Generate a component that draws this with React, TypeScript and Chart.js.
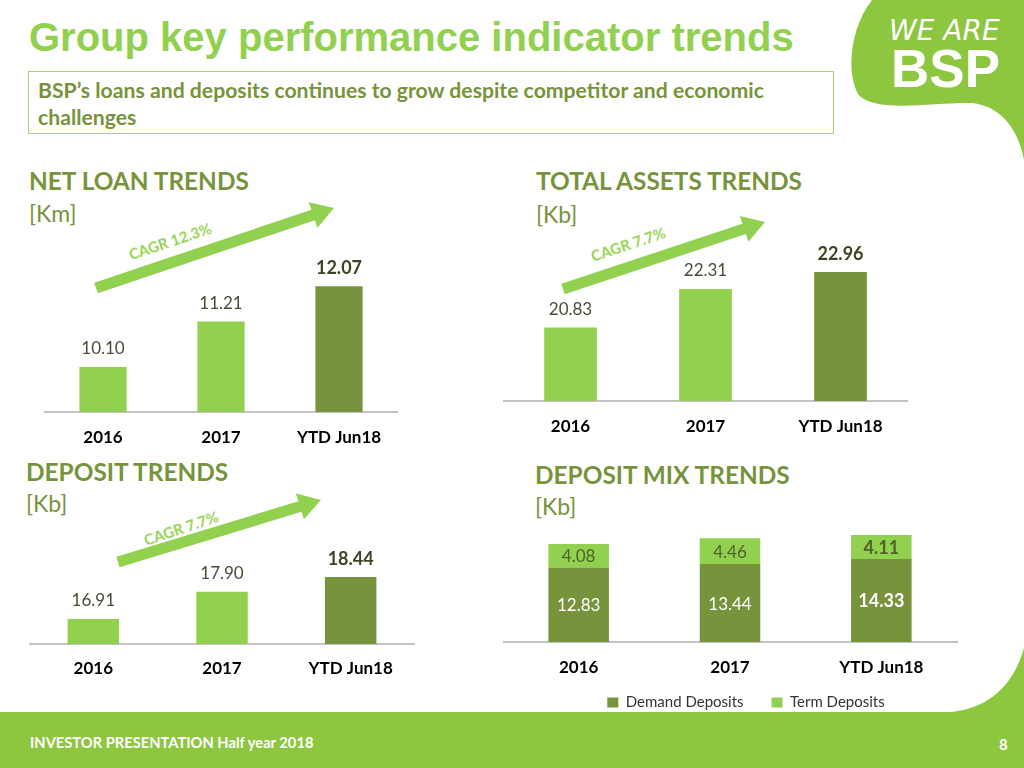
import React, { useEffect, useRef } from "react";
import { Chart, registerables } from "chart.js";
Chart.register(...registerables);

// ---------- data ----------
const categories = ["2016", "2017", "YTD Jun18"];
const netLoanValues = [10.1, 11.21, 12.07];
const totalAssetValues = [20.83, 22.31, 22.96];
const depositValues = [16.91, 17.9, 18.44];
const demandDepositValues = [12.83, 13.44, 14.33];
const termDepositValues = [4.08, 4.46, 4.11];
const seriesNames = ["Demand Deposits", "Term Deposits"];
const cagrLabels = ["CAGR 12.3%", "CAGR 7.7%", "CAGR 7.7%"];

// ---------- styles ----------
const LIGHT = "#92d050";
const DARK = "#77933c";
const BRAND = "#8dc63f";
const HEAD = "#77933c";
const FONT = "Lato, 'Open Sans', sans-serif";

type Geo = {
  left: number; right: number; baseline: number; min: number; max: number;
  ppu: number; labelGap: number; barPct: number;
};

function makeValuePlugin(inside: boolean) {
  return {
    id: "barValues",
    afterDatasetsDraw(chart: any) {
      const ctx = chart.ctx;
      ctx.save();
      ctx.textAlign = "center";
      ctx.textBaseline = "middle";
      chart.data.datasets.forEach((ds: any, di: number) => {
        const meta = chart.getDatasetMeta(di);
        meta.data.forEach((el: any, i: number) => {
          const v = ds.data[i] as number;
          const last = i === ds.data.length - 1;
          let color: string;
          if (inside) color = di === 0 ? "#ffffff" : "#4f6228";
          else color = last ? "#3b4423" : "#474e38";
          ctx.fillStyle = color;
          ctx.font = `${last ? "bold " : ""}${last ? 18 : 17}px ${FONT}`;
          const y = inside ? (el.y + el.base) / 2 + 1 : el.y - 18;
          ctx.fillText(v.toFixed(2), el.x, y);
        });
      });
      ctx.restore();
    },
  };
}

const xAxisBase = (labelGap: number) => ({
  grid: { display: false, drawTicks: false },
  border: { color: "#c3c3c3", width: 2 },
  ticks: {
    color: "#000000",
    font: { family: FONT, weight: "bold", size: 17, lineHeight: `${2 * labelGap}px` },
    padding: 0,
  },
});

function simpleConfig(values: number[], g: Geo) {
  return {
    type: "bar",
    data: {
      labels: categories,
      datasets: [
        {
          data: values,
          backgroundColor: values.map((_, i) => (i === values.length - 1 ? DARK : LIGHT)),
          borderWidth: 0,
          barPercentage: g.barPct,
          categoryPercentage: 1,
        },
      ],
    },
    options: {
      animation: false,
      responsive: false,
      maintainAspectRatio: false,
      layout: { padding: 0 },
      events: [],
      plugins: { legend: { display: false }, tooltip: { enabled: false } },
      scales: {
        x: {
          ...xAxisBase(g.labelGap),
          afterFit: (s: any) => { s.height = 2 * g.labelGap; },
        },
        y: { display: false, min: g.min, max: g.max },
      },
    },
    plugins: [makeValuePlugin(false)],
  };
}

const MIX_AXIS_H = 36;
const MIX_LEGEND_H = 41;

function mixConfig(g: Geo) {
  return {
    type: "bar",
    data: {
      labels: categories,
      datasets: [
        {
          label: seriesNames[0],
          data: demandDepositValues,
          backgroundColor: DARK,
          borderWidth: 0,
          barPercentage: g.barPct,
          categoryPercentage: 1,
        },
        {
          label: seriesNames[1],
          data: termDepositValues,
          backgroundColor: LIGHT,
          borderWidth: 0,
          barPercentage: g.barPct,
          categoryPercentage: 1,
        },
      ],
    },
    options: {
      animation: false,
      responsive: false,
      maintainAspectRatio: false,
      layout: { padding: 0 },
      events: [],
      plugins: {
        tooltip: { enabled: false },
        legend: {
          position: "bottom",
          title: {
            display: true,
            text: "",
            padding: { top: -11, bottom: 0 },
            font: { size: 1, lineHeight: "0px" },
          },
          labels: {
            boxWidth: 11,
            boxHeight: 10,
            padding: 28,
            color: "#333333",
            font: { family: FONT, size: 15 },
          },
        },
      },
      scales: {
        x: {
          stacked: true,
          ...xAxisBase(g.labelGap),
          afterFit: (s: any) => { s.height = MIX_AXIS_H; },
        },
        y: {
          stacked: true,
          position: "right",
          min: g.min,
          max: g.max,
          grid: { display: false, drawTicks: false },
          border: { display: false },
          ticks: { display: false },
          afterFit: (s: any) => { s.width = 32; },
        },
      },
    },
    plugins: [makeValuePlugin(true)],
  };
}

function ChartBox({ x, y, w, h, build }: { x: number; y: number; w: number; h: number; build: () => any }) {
  const ref = useRef<HTMLCanvasElement | null>(null);
  useEffect(() => {
    const chart = new Chart(ref.current as HTMLCanvasElement, build());
    return () => chart.destroy();
  }, []);
  return (
    <canvas
      ref={ref}
      width={w}
      height={h}
      style={{ position: "absolute", left: x, top: y, width: w, height: h }}
    />
  );
}

function SimpleChart({ values, g }: { values: number[]; g: Geo }) {
  const chartH = (g.max - g.min) * g.ppu;
  const top = g.baseline - chartH;
  const h = Math.round(chartH + 2 * g.labelGap);
  return <ChartBox x={g.left} y={top} w={g.right - g.left} h={h} build={() => simpleConfig(values, g)} />;
}

function MixChart({ g }: { g: Geo }) {
  const chartH = (g.max - g.min) * g.ppu;
  const top = g.baseline - chartH;
  const h = Math.round(chartH + MIX_AXIS_H + MIX_LEGEND_H);
  return <ChartBox x={g.left} y={top} w={g.right - g.left + 32} h={h} build={() => mixConfig(g)} />;
}

function T({ x, cy, size, lh, color, weight, family, children, style }: any) {
  return (
    <div
      style={{
        position: "absolute",
        left: x,
        top: cy - lh / 2,
        height: lh,
        lineHeight: `${lh}px`,
        fontSize: size,
        color,
        fontWeight: weight || "normal",
        fontFamily: family || FONT,
        whiteSpace: "nowrap",
        ...style,
      }}
    >
      {children}
    </div>
  );
}

function arrowPoints(x1: number, y1: number, x2: number, y2: number, sw: number, hw: number, hl: number) {
  const dx = x2 - x1, dy = y2 - y1;
  const len = Math.hypot(dx, dy);
  const ux = dx / len, uy = dy / len;
  const nx = -uy, ny = ux;
  const bx = x2 - ux * hl, by = y2 - uy * hl;
  const pts = [
    [x1 + nx * sw / 2, y1 + ny * sw / 2],
    [bx + nx * sw / 2, by + ny * sw / 2],
    [bx + nx * hw / 2, by + ny * hw / 2],
    [x2, y2],
    [bx - nx * hw / 2, by - ny * hw / 2],
    [bx - nx * sw / 2, by - ny * sw / 2],
    [x1 - nx * sw / 2, y1 - ny * sw / 2],
  ];
  return pts.map((p) => `${p[0].toFixed(1)},${p[1].toFixed(1)}`).join(" ");
}

const netLoanGeo: Geo = { left: 44, right: 398, baseline: 412, min: 9, max: 13, ppu: 41, labelGap: 26, barPct: 0.4 };
const totalAssetGeo: Geo = { left: 503, right: 908, baseline: 401, min: 18, max: 25, ppu: 26, labelGap: 26, barPct: 0.39 };
const depositGeo: Geo = { left: 29, right: 415, baseline: 644, min: 16, max: 20, ppu: 27.5, labelGap: 25, barPct: 0.4 };
const mixGeo: Geo = { left: 503, right: 957, baseline: 643, min: 0, max: 25, ppu: 5.85, labelGap: 26, barPct: 0.4 };

const arrows = [
  { x1: 96, y1: 288, x2: 334, y2: 208, tx: 170, ty: 241 },
  { x1: 563, y1: 289, x2: 765, y2: 222, tx: 628, ty: 244 },
  { x1: 118, y1: 562, x2: 321, y2: 500, tx: 181, ty: 528 },
];

const HS = 24.4; // heading size
const US = 23; // unit size

export default function App() {
  return (
    <div
      style={{
        position: "absolute",
        left: 0,
        top: 0,
        width: 1024,
        height: 768,
        overflow: "hidden",
        background: "#ffffff",
        fontFamily: FONT,
      }}
    >
      <svg width={1024} height={768} style={{ position: "absolute", left: 0, top: 0 }}>
        <path d="M 872 0 C 850 28, 846 72, 858 94 C 874 114, 935 102, 972 103 C 1000 106, 1018 128, 1024 160 L 1024 0 Z" fill={BRAND} />
        <path d="M 0 712 L 952 712 C 990 708, 1014 684, 1024 648 L 1024 768 L 0 768 Z" fill={BRAND} />
        {arrows.map((a, i) => (
          <polygon key={i} points={arrowPoints(a.x1, a.y1, a.x2, a.y2, 11, 27, 22)} fill={LIGHT} />
        ))}
        <rect x={28.5} y={71.5} width={805} height={62} fill="none" stroke="#a6d66b" strokeWidth={1} />
      </svg>

      {/* logo */}
      <T x={889} cy={31} size={28} lh={32} color="#ffffff" family="'DejaVu Sans', sans-serif" style={{ fontStyle: "italic" }}>
        WE ARE
      </T>
      <T x={891} cy={69} size={53} lh={56} color="#ffffff" weight="bold" family="'Liberation Sans', Arial, sans-serif">
        BSP
      </T>

      {/* title */}
      <T x={29} cy={36.5} size={40} lh={46} color={LIGHT} weight="bold" family="'Liberation Sans', Arial, sans-serif">
        Group key performance indicator trends
      </T>
      <T x={38} cy={90} size={21.2} lh={26} color={HEAD} weight="bold">
        BSP’s loans and deposits continues to grow despite competitor and economic
      </T>
      <T x={38} cy={117} size={21.2} lh={26} color={HEAD} weight="bold">
        challenges
      </T>

      {/* section headings */}
      <T x={29} cy={181} size={HS} lh={30} color={HEAD} weight="bold">NET LOAN TRENDS</T>
      <T x={29} cy={213} size={US} lh={28} color={HEAD}>[Km]</T>
      <T x={536} cy={181} size={HS} lh={30} color={HEAD} weight="bold">TOTAL ASSETS TRENDS</T>
      <T x={536} cy={214} size={US} lh={28} color={HEAD}>[Kb]</T>
      <T x={26} cy={472} size={HS} lh={30} color={HEAD} weight="bold">DEPOSIT TRENDS</T>
      <T x={26} cy={503} size={US} lh={28} color={HEAD}>[Kb]</T>
      <T x={535} cy={475} size={HS} lh={30} color={HEAD} weight="bold">DEPOSIT MIX TRENDS</T>
      <T x={535} cy={506} size={US} lh={28} color={HEAD}>[Kb]</T>

      {/* charts */}
      <SimpleChart values={netLoanValues} g={netLoanGeo} />
      <SimpleChart values={totalAssetValues} g={totalAssetGeo} />
      <SimpleChart values={depositValues} g={depositGeo} />
      <MixChart g={mixGeo} />

      {/* CAGR labels */}
      {arrows.map((a, i) => (
        <div
          key={i}
          style={{
            position: "absolute",
            left: a.tx - 60,
            top: a.ty - 10,
            width: 120,
            height: 20,
            lineHeight: "20px",
            textAlign: "center",
            fontSize: 15,
            fontWeight: "bold",
            color: LIGHT,
            fontFamily: FONT,
            transform: "rotate(-18.5deg)",
            whiteSpace: "nowrap",
          }}
        >
          {cagrLabels[i]}
        </div>
      ))}

      {/* footer */}
      <T x={30} cy={742} size={14.7} lh={20} color="#ffffff" weight="bold">
        INVESTOR PRESENTATION Half year 2018
      </T>
      <T x={999} cy={744} size={15} lh={20} color="#ffffff" weight="bold">8</T>
    </div>
  );
}
